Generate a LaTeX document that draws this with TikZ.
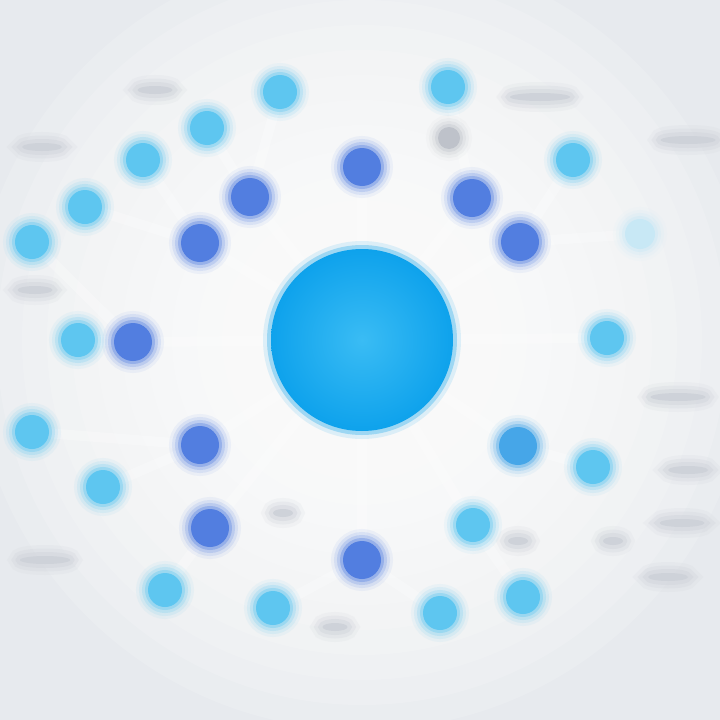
\documentclass[tikz,border=0pt]{standalone}
\usetikzlibrary{shapes.geometric}
\definecolor{hubblue}{RGB}{14,162,236}
\definecolor{hubcore}{RGB}{58,188,244}
\definecolor{royal}{RGB}{82,126,224}
\definecolor{sky}{RGB}{94,198,240}
\definecolor{midblue}{RGB}{70,166,232}
\definecolor{paleblue}{RGB}{200,232,245}
\definecolor{ash}{RGB}{190,194,202}
\definecolor{haze}{RGB}{206,210,217}
\definecolor{bgedge}{RGB}{231,234,238}
\pgfdeclarelayer{back}
\pgfdeclarelayer{links}
\pgfsetlayers{back,links,main}
\begin{document}
\begin{tikzpicture}[x=1pt, y=-1pt,
    glow/.style={circle, inner sep=0, fill=#1,
        preaction={draw=#1, line width=24pt, draw opacity=.07},
        preaction={draw=#1, line width=18pt, draw opacity=.12},
        preaction={draw=#1, line width=12pt, draw opacity=.2},
        preaction={draw=#1, line width=6pt, draw opacity=.35}},
    hubnode/.style={circle, inner sep=0, minimum size=182pt, inner color=hubcore, outer color=hubblue,
        preaction={draw=hubblue, line width=16pt, draw opacity=.12},
        preaction={draw=hubblue, line width=8pt, draw opacity=.3}},
    dark/.style={glow=royal, minimum size=38pt},
    light/.style={glow=sky, minimum size=34pt},
    smudge/.style={ellipse, inner sep=0, minimum width=#1, minimum height=8pt, fill=haze,
        preaction={draw=haze, line width=22pt, draw opacity=.15},
        preaction={draw=haze, line width=15pt, draw opacity=.25},
        preaction={draw=haze, line width=8pt, draw opacity=.4}},
    link/.style={white, line width=10pt, opacity=.25, line cap=round}]
    \useasboundingbox (0,0) rectangle (720,720);
    \begin{pgfonlayer}{back}
        \fill[bgedge] (0,0) rectangle (720,720);
        \foreach \r in {390,365,...,115}
            \fill[white, opacity=.15] (362,340) circle (\r);
    \end{pgfonlayer}
    \node[hubnode] (hub) at (362,340) {};
    \foreach \x/\y [count=\i] in {362/167, 250/197, 472/198, 200/243, 520/242, 133/342, 200/445, 210/528, 362/560}
        \node[dark] (d\i) at (\x,\y) {};
    \node[glow=midblue, minimum size=38pt] (d10) at (518,446) {};
    \foreach \x/\y [count=\i] in {280/92, 207/128, 143/160, 85/207, 32/242, 78/340, 448/87, 573/160, 607/338, 32/432, 103/487, 165/590, 273/608, 593/467, 473/525, 440/613, 523/597}
        \node[light] (l\i) at (\x,\y) {};
    \node[glow=paleblue, minimum size=30pt] (l18) at (640,234) {};
    \node[glow=ash, minimum size=22pt] (g1) at (449,138) {};
    \foreach \x/\y/\w [count=\i] in {42/147/40, 155/90/35, 540/97/60, 688/140/55, 35/290/35, 678/397/55, 688/470/40, 682/523/45, 613/541/20, 518/541/20, 668/577/40, 45/560/50, 283/513/20, 335/627/25}
        \node[smudge=\w] (s\i) at (\x,\y) {};
    \begin{pgfonlayer}{links}
        \foreach \a/\b in {hub/d1, hub/d2, hub/d3, hub/d4, hub/d5, hub/d6, hub/d7, hub/d8, hub/d9, hub/d10, hub/l9, hub/l15,
                           d2/l1, d2/l2, d4/l3, d4/l4, d6/l5, d6/l6, d3/l7, d5/l8, d5/l18, d7/l10, d7/l11, d8/l12, d9/l13, d9/l16, d10/l14, l15/l17}
            \draw[link] (\a.center) -- (\b.center);
    \end{pgfonlayer}
\end{tikzpicture}
\end{document}
